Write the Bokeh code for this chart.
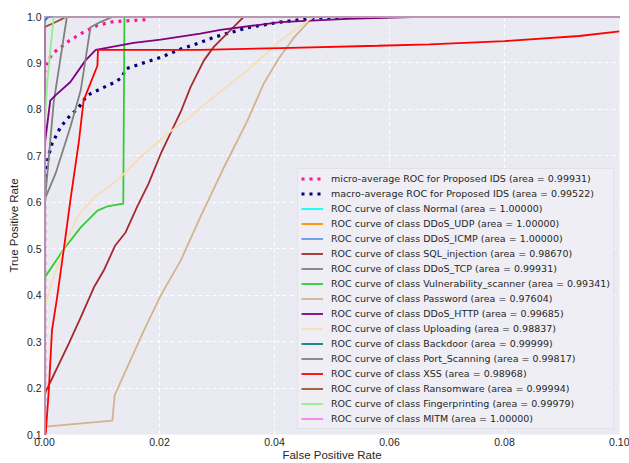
from bokeh.plotting import figure
from bokeh.models import FixedTicker, PrintfTickFormatter
from bokeh.embed import file_html
from bokeh.resources import INLINE

# ---------------- data ----------------
micro_fpr = [0.0, 0.0, 0.00064, 0.0013, 0.0025, 0.0043, 0.0066, 0.0092, 0.012, 0.0176, 0.0184, 0.1]
micro_tpr = [0.0, 0.88, 0.904, 0.92, 0.930, 0.948, 0.965, 0.981, 0.989, 0.993, 1.0, 1.0]

macro_fpr = [0.0, 0.0, 0.0003, 0.00064, 0.0013, 0.0028, 0.0042, 0.006, 0.0074, 0.0097, 0.0123,
             0.0135, 0.0141, 0.0167, 0.0202, 0.0237, 0.0271, 0.0294, 0.0353, 0.041, 0.0469,
             0.053, 0.06, 0.1]
macro_tpr = [0.0, 0.62, 0.665, 0.697, 0.726, 0.762, 0.783, 0.805, 0.830, 0.844, 0.859,
             0.869, 0.887, 0.898, 0.912, 0.930, 0.944, 0.955, 0.976, 0.988, 0.9965,
             0.999, 1.0, 1.0]

normal_fpr = [0.0, 0.0, 0.1]
normal_tpr = [0.0, 1.0, 1.0]
udp_fpr = [0.0, 0.0, 0.1]
udp_tpr = [0.0, 1.0, 1.0]
icmp_fpr = [0.0, 0.0, 0.1]
icmp_tpr = [0.0, 1.0, 1.0]

sql_fpr = [0.0, 0.0, 0.00017, 0.001, 0.0042, 0.0063, 0.0086, 0.0103, 0.0123, 0.0141, 0.0161,
           0.0181, 0.0202, 0.0237, 0.0254, 0.0277, 0.0294, 0.0323, 0.0347, 0.1]
sql_tpr = [0.0, 0.18, 0.191, 0.2125, 0.295, 0.352, 0.417, 0.453, 0.507, 0.535, 0.590,
           0.640, 0.704, 0.795, 0.848, 0.905, 0.934, 0.970, 1.0, 1.0]

tcp_fpr = [0.0, 0.0, 0.0002, 0.0016, 0.0039, 0.1]
tcp_tpr = [0.0, 0.60, 0.62, 0.815, 1.0, 1.0]

vuln_fpr = [0.0, 0.0, 0.0002, 0.0034, 0.0063, 0.0092, 0.0109, 0.0137, 0.0139, 0.1]
vuln_tpr = [0.0, 0.44, 0.441, 0.50, 0.546, 0.582, 0.591, 0.597, 1.0, 1.0]

pwd_fpr = [0.0, 0.0, 0.0002, 0.0118, 0.0122, 0.0144, 0.0173, 0.0202, 0.0237, 0.0271, 0.031,
           0.0353, 0.0381, 0.0407, 0.0434, 0.0468, 0.1]
pwd_tpr = [0.0, 0.112, 0.117, 0.130, 0.184, 0.245, 0.324, 0.399, 0.475, 0.568, 0.670,
           0.776, 0.855, 0.909, 0.955, 1.0, 1.0]

http_fpr = [0.0, 0.0, 0.001, 0.0019, 0.0045, 0.0071, 0.0089, 0.0115, 0.0155, 0.0202, 0.0271,
            0.0306, 0.041, 0.0527, 0.067, 0.1]
http_tpr = [0.0, 0.72, 0.819, 0.830, 0.859, 0.905, 0.928, 0.934, 0.943, 0.950, 0.963,
            0.971, 0.988, 0.995, 1.0, 1.0]

upl_fpr = [0.0, 0.0, 0.0002, 0.0016, 0.0039, 0.0057, 0.0086, 0.0115, 0.0138, 0.0167, 0.0213,
           0.0254, 0.0294, 0.0353, 0.041, 0.0468, 0.1]
upl_tpr = [0.0, 0.37, 0.382, 0.439, 0.518, 0.568, 0.611, 0.636, 0.661, 0.697, 0.747,
           0.785, 0.826, 0.884, 0.948, 1.0, 1.0]

back_fpr = [0.0, 0.0, 0.0004, 0.0008, 0.1]
back_tpr = [0.0, 0.99, 0.996, 1.0, 1.0]

port_fpr = [0.0, 0.0, 0.0002, 0.0019, 0.0045, 0.0063, 0.008, 0.0097, 0.012, 0.1]
port_tpr = [0.0, 0.60, 0.611, 0.661, 0.762, 0.841, 0.977, 0.988, 1.0, 1.0]

xss_fpr = [0.0, 0.0002, 0.00075, 0.0013, 0.0022, 0.0034, 0.0045, 0.006, 0.0068, 0.0075,
           0.0092, 0.0093, 0.0271, 0.041, 0.058, 0.067, 0.080, 0.093, 0.1]
xss_tpr = [0.0, 0.10, 0.195, 0.324, 0.396, 0.503, 0.604, 0.733, 0.819, 0.841,
           0.894, 0.928, 0.928, 0.932, 0.937, 0.940, 0.947, 0.958, 0.968]

ransom_fpr = [0.0, 0.0, 0.0016, 0.0031, 0.0038, 0.1]
ransom_tpr = [0.0, 0.977, 0.986, 0.995, 1.0, 1.0]

finger_fpr = [0.0, 0.0, 0.0005, 0.0016, 0.1]
finger_tpr = [0.0, 0.76, 0.862, 1.0, 1.0]

mitm_fpr = [0.0, 0.0, 0.1]
mitm_tpr = [0.0, 1.0, 1.0]

micro_auc = "0.99931"
macro_auc = "0.99522"

class_names = ["Normal", "DDoS_UDP", "DDoS_ICMP", "SQL_injection", "DDoS_TCP",
               "Vulnerability_scanner", "Password", "DDoS_HTTP", "Uploading", "Backdoor",
               "Port_Scanning", "XSS", "Ransomware", "Fingerprinting", "MITM"]
class_auc = ["1.00000", "1.00000", "1.00000", "0.98670", "0.99931",
             "0.99341", "0.97604", "0.99685", "0.98837", "0.99999",
             "0.99817", "0.98968", "0.99994", "0.99979", "1.00000"]
class_colors = ["aqua", "darkorange", "cornflowerblue", "brown", "gray",
                "limegreen", "tan", "purple", "wheat", "teal",
                "gray", "red", "sienna", "lightgreen", "violet"]
class_fpr = [normal_fpr, udp_fpr, icmp_fpr, sql_fpr, tcp_fpr, vuln_fpr, pwd_fpr, http_fpr,
             upl_fpr, back_fpr, port_fpr, xss_fpr, ransom_fpr, finger_fpr, mitm_fpr]
class_tpr = [normal_tpr, udp_tpr, icmp_tpr, sql_tpr, tcp_tpr, vuln_tpr, pwd_tpr, http_tpr,
             upl_tpr, back_tpr, port_tpr, xss_tpr, ransom_tpr, finger_tpr, mitm_tpr]

x_ticks = [0.0, 0.02, 0.04, 0.06, 0.08, 0.10]
y_ticks = [0.1, 0.2, 0.3, 0.4, 0.5, 0.6, 0.7, 0.8, 0.9, 1.0]

# ---------------- figure ----------------
FONT = "Liberation Sans"
TXT = "#262626"

p = figure(width=629, height=463, x_range=(0.0, 0.1), y_range=(0.1, 1.0),
           output_backend="svg", toolbar_location=None,
           min_border_left=44, min_border_right=10, min_border_top=16, min_border_bottom=29,
           background_fill_color="#EAEAF2", border_fill_color="white")
p.outline_line_color = None

for ax in (p.xaxis[0], p.yaxis[0]):
    ax.axis_line_color = None
    ax.major_tick_line_color = None
    ax.minor_tick_line_color = None
    ax.major_tick_out = 0
    ax.major_tick_in = 0
    ax.major_label_text_font = FONT
    ax.major_label_text_font_size = "10.5px"
    ax.major_label_text_color = TXT
    ax.axis_label_text_font = FONT
    ax.axis_label_text_font_size = "11.5px"
    ax.axis_label_text_font_style = "normal"
    ax.axis_label_text_color = TXT
    ax.major_label_standoff = 3

p.xaxis.axis_label_standoff = 0
p.yaxis.axis_label_standoff = 4

p.xaxis.axis_label = "False Positive Rate"
p.yaxis.axis_label = "True Positive Rate"
p.xaxis.ticker = FixedTicker(ticks=x_ticks)
p.yaxis.ticker = FixedTicker(ticks=y_ticks)
p.xaxis.formatter = PrintfTickFormatter(format="%.2f")
p.yaxis.formatter = PrintfTickFormatter(format="%.1f")

p.xgrid.grid_line_color = "white"
p.ygrid.grid_line_color = "white"
p.xgrid.grid_line_dash = "4 3"
p.ygrid.grid_line_dash = "4 3"
p.xgrid.grid_line_width = 1
p.ygrid.grid_line_width = 1

p.line(micro_fpr, micro_tpr, line_color="deeppink", line_width=3.2, line_dash="3 5",
       legend_label=f"micro-average ROC for Proposed IDS (area = {micro_auc})")
p.line(macro_fpr, macro_tpr, line_color="navy", line_width=3.2, line_dash="3 5",
       legend_label=f"macro-average ROC for Proposed IDS (area = {macro_auc})")

for name, auc, col, fx, ty in zip(class_names, class_auc, class_colors, class_fpr, class_tpr):
    p.line(fx, ty, line_color=col, line_width=1.8,
           legend_label=f"ROC curve of class {name} (area = {auc})")

lg = p.legend[0]
lg.location = "bottom_right"
lg.margin = 5
lg.padding = 3
lg.spacing = 2
lg.label_height = 13
lg.glyph_height = 13
lg.glyph_width = 22
lg.label_standoff = 8
lg.label_text_font = "DejaVu Sans"
lg.label_text_font_size = "9.5px"
lg.label_text_color = TXT
lg.background_fill_color = "#EEEEF4"
lg.background_fill_alpha = 1.0
lg.border_line_color = "#D4D4DC"
lg.border_line_width = 1

open("out.html", "w").write(file_html(p, INLINE))
